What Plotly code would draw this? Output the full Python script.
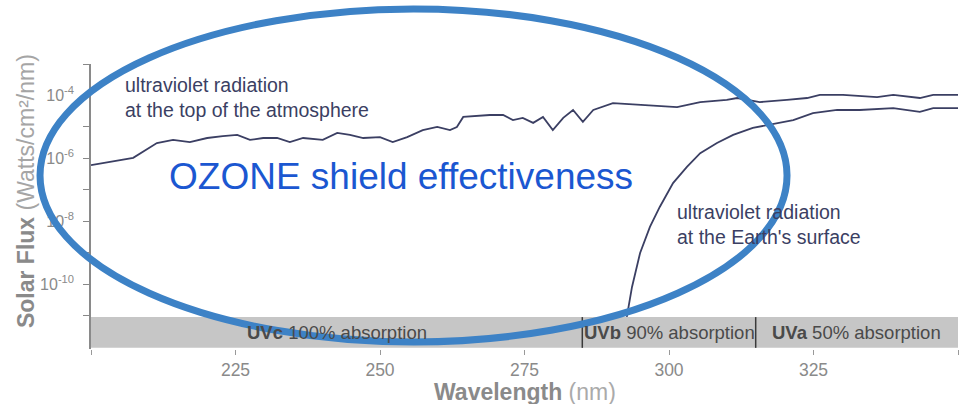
import plotly.graph_objects as go

# ---- data ----
top_wl = [200.0, 207.3, 211.4, 214.2, 217.1, 220.1, 222.8, 225.3, 227.5, 229.8, 232.2, 234.4,
          236.7, 240.1, 242.6, 244.8, 247.1, 250.0, 252.2, 254.7, 257.4, 259.9, 262.1, 263.3,
          264.4, 269.0, 271.3, 273.0, 274.7, 276.5, 278.2, 279.9, 281.7, 283.4, 285.1, 286.9,
          290.3, 295.5, 301.4, 305.4, 310.0, 311.8, 315.7, 320.4, 323.9, 326.1, 330.1, 336.0,
          338.8, 343.4, 345.7, 350.0]
top_log = [-6.21, -5.98, -5.51, -5.41, -5.48, -5.35, -5.29, -5.25, -5.41, -5.35, -5.35, -5.48,
           -5.35, -5.41, -5.19, -5.25, -5.35, -5.32, -5.48, -5.32, -5.10, -5.00, -5.10, -5.00,
           -4.68, -4.62, -4.62, -4.78, -4.71, -4.87, -4.68, -5.10, -4.71, -4.46, -4.84, -4.46,
           -4.24, -4.30, -4.37, -4.21, -4.14, -4.08, -4.21, -4.14, -4.08, -3.98, -3.98, -4.05,
           -3.98, -4.08, -3.98, -3.98]

surf_wl = [292.7, 293.6, 295.0, 296.7, 298.4, 300.7, 303.1, 305.4, 308.3, 311.1, 314.5, 318.7,
           321.5, 324.9, 329.1, 333.0, 338.8, 343.4, 345.7, 350.0]
surf_log = [-11.03, -10.08, -9.00, -8.17, -7.54, -6.78, -6.27, -5.83, -5.51, -5.25, -5.03, -4.87,
            -4.78, -4.56, -4.46, -4.46, -4.40, -4.52, -4.40, -4.40]

band_edges = [200, 285, 315, 350]
band_labels = ["<b>UVc</b> 100% absorption", "<b>UVb</b> 90% absorption", "<b>UVa</b> 50% absorption"]
band_label_x = [242.5, 300.0, 332.4]

x_label_ticks = [225, 250, 275, 300, 325]
x_end_ticks = [200, 350]
y_label_exp = [-4, -6, -8, -10]
y_minor_exp = [-3, -5, -7, -9, -11]

top_y = [10 ** v for v in top_log]
surf_y = [10 ** v for v in surf_log]

FONT = "Liberation Sans, Arial"
CURVE = "#3b3f63"

fig = go.Figure()
fig.add_trace(go.Scatter(x=top_wl, y=top_y, mode="lines",
                         line=dict(color=CURVE, width=1.8), hoverinfo="skip"))
fig.add_trace(go.Scatter(x=surf_wl, y=surf_y, mode="lines",
                         line=dict(color=CURVE, width=1.8), hoverinfo="skip"))

shapes = []
shapes.append(dict(type="rect", xref="x", yref="paper", x0=band_edges[0], x1=band_edges[-1],
                   y0=0.004, y1=0.112, fillcolor="#c6c6c6", line=dict(width=0), layer="above"))
for e in band_edges[1:-1]:
    shapes.append(dict(type="line", xref="x", yref="paper", x0=e, x1=e, y0=0.004, y1=0.112,
                       line=dict(color="#3a3a3a", width=1.5), layer="above"))
shapes.append(dict(type="circle", xref="paper", yref="paper", x0=-0.0588, x1=0.8028,
                   y0=0.0246, y1=1.193, line=dict(color="#3d82c6", width=7), layer="above"))

annotations = []
for lab, xx in zip(band_labels, band_label_x):
    annotations.append(dict(x=xx, y=0.058, xref="x", yref="paper", text=lab, showarrow=False,
                            font=dict(family=FONT, size=18.5, color="#4a4a4a"),
                            xanchor="center", yanchor="middle"))
annotations.append(dict(x=0.0369, y=0.8825, xref="paper", yref="paper",
                        text="ultraviolet radiation<br>at the top of the atmosphere",
                        showarrow=False, align="left", xanchor="left", yanchor="middle",
                        font=dict(family=FONT, size=19.5, color=CURVE)))
annotations.append(dict(x=0.6736, y=0.4368, xref="paper", yref="paper",
                        text="ultraviolet radiation<br>at the Earth's surface",
                        showarrow=False, align="left", xanchor="left", yanchor="middle",
                        font=dict(family=FONT, size=19.5, color=CURVE)))
annotations.append(dict(x=0.357, y=0.605, xref="paper", yref="paper",
                        text="OZONE shield effectiveness", showarrow=False,
                        xanchor="center", yanchor="middle",
                        font=dict(family=FONT, size=37, color="#1b57d1")))
annotations.append(dict(x=0.5006, y=-0.1, xref="paper", yref="paper",
                        text="<b>Wavelength</b> <span style='color:#aaaaaa'>(nm)</span>",
                        showarrow=False, xanchor="center", yanchor="top", borderpad=0,
                        font=dict(family=FONT, size=23, color="#8a8a8a")))
annotations.append(dict(x=-0.075, y=0.554, xref="paper", yref="paper", textangle=-90,
                        text="<b>Solar Flux</b> <span style='color:#a5a5a5'>(Watts/cm²/nm)</span>",
                        showarrow=False, xanchor="center", yanchor="middle",
                        font=dict(family=FONT, size=23, color="#8a8a8a")))

fig.update_layout(
    width=967, height=404,
    margin=dict(l=91, r=9, t=64, b=55),
    paper_bgcolor="white", plot_bgcolor="white",
    showlegend=False,
    shapes=shapes, annotations=annotations,
    xaxis=dict(range=[200, 350], tickvals=x_label_ticks, ticktext=[str(v) for v in x_label_ticks],
               ticks="outside", ticklen=5, tickcolor="#999999", showline=False,
               showgrid=False, zeroline=False,
               minor=dict(tickvals=x_end_ticks, ticks="outside", ticklen=5, tickcolor="#999999",
                          showgrid=False),
               tickfont=dict(family=FONT, size=17.5, color="#8a8a8a")),
    yaxis=dict(type="log", range=[-12.05, -3.0], tickvals=[10 ** e for e in y_label_exp],
               ticktext=["10<sup>%d</sup>" % e for e in y_label_exp],
               ticks="outside", ticklen=6, tickcolor="#888888",
               minor=dict(tickvals=[10 ** e for e in y_minor_exp], ticks="outside", ticklen=6,
                          tickcolor="#888888", showgrid=False),
               showline=True, linecolor="#8a8a8a", linewidth=1.5, showgrid=False,
               zeroline=False, ticklabelstandoff=6,
               tickfont=dict(family=FONT, size=16, color="#8a8a8a")),
)

fig.write_html("out.html")
